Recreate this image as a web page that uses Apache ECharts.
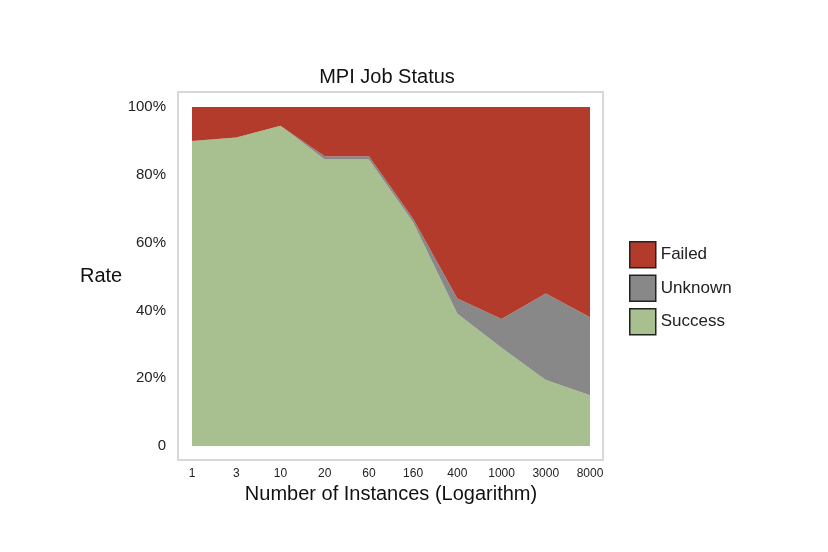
<!DOCTYPE html>
<html>
<head>
<meta charset="utf-8">
<script src="https://cdn.jsdelivr.net/npm/echarts@6/dist/echarts.min.js"></script>
<style>html,body{margin:0;background:#fff}#main{width:828px;height:552px}</style>
</head>
<body>
<div id="main"></div>
<script>
let instances = ['1', '3', '10', '20', '60', '160', '400', '1000', '3000', '8000'];
let success = [90, 91, 94.5, 84.5, 84.5, 66, 39, 29, 19.5, 15];
let unknown = [0, 0, 0, 1, 1, 1, 4.5, 8.5, 25.5, 23];
let failed = success.map((s, i) => +(100 - s - unknown[i]).toFixed(1));
let yTicks = [0, 20, 40, 60, 80, 100];

let myChart = echarts.init(document.getElementById('main'));

let font = 'Liberation Sans';
let option = {
    textStyle: { fontFamily: font },
    title: {
        text: 'MPI Job Status',
        left: 382, top: 62, textAlign: 'center',
        textStyle: { fontSize: 20, fontWeight: 'normal', color: '#111', fontFamily: font }
    },
    graphic: [{
        type: 'rect', z: -1,
        shape: { x: 178, y: 92, width: 425, height: 368 },
        style: { fill: '#fff', stroke: '#d8d8d8', lineWidth: 2 }
    }, {
        type: 'text', left: 80, top: 266,
        style: { text: 'Rate', fontSize: 20, fill: '#111', fontFamily: font }
    }],
    legend: {
        data: ['Failed', 'Unknown', 'Success'],
        orient: 'vertical', left: 624, top: 236,
        itemWidth: 26, itemHeight: 26, itemGap: 6,
        icon: 'rect',
        itemStyle: { borderColor: '#222', borderWidth: 1.5 },
        textStyle: { fontSize: 17, color: '#222', fontFamily: font }
    },
    grid: { left: 192, right: 238, top: 107, bottom: 106 },
    xAxis: {
        type: 'category', boundaryGap: false, data: instances,
        name: 'Number of Instances (Logarithm)', nameLocation: 'middle', nameGap: 36,
        nameTextStyle: { fontSize: 20, color: '#111' },
        axisLine: { show: false },
        axisTick: { show: false },
        axisLabel: { margin: 22, fontSize: 12, color: '#222' },
        splitLine: { show: false }
    },
    yAxis: {
        type: 'value', min: 0, max: 100, interval: 20,
        axisLine: { show: false }, axisTick: { show: false },
        splitLine: { show: false },
        axisLabel: {
            margin: 26, fontSize: 15, color: '#222',
            formatter: v => yTicks.includes(v) ? (v === 0 ? '0' : v + '%') : ''
        }
    },
    series: [{
        name: 'Success', type: 'line', stack: 'Total', data: success,
        symbol: 'none', lineStyle: { width: 0 },
        areaStyle: { color: '#a8bf8f', opacity: 1 }, itemStyle: { color: '#a8bf8f' }
    }, {
        name: 'Unknown', type: 'line', stack: 'Total', data: unknown,
        symbol: 'none', lineStyle: { width: 0 },
        areaStyle: { color: '#888888', opacity: 1 }, itemStyle: { color: '#888888' }
    }, {
        name: 'Failed', type: 'line', stack: 'Total', data: failed,
        symbol: 'none', lineStyle: { width: 0 },
        areaStyle: { color: '#b23b2c', opacity: 1 }, itemStyle: { color: '#b23b2c' }
    }]
};

myChart.setOption(option);
</script>
</body>
</html>
